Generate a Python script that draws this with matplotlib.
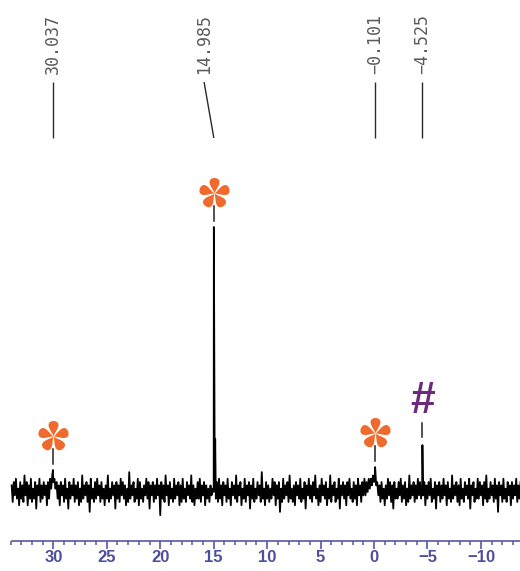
import numpy as np
import matplotlib
matplotlib.use('Agg')
import matplotlib.pyplot as plt
from matplotlib.path import Path

# baseline trace, one value every 0.1 ppm from 33.9 ppm
# (values in noise_unit steps of intensity, main peak = 100)
noise = [2, -3, 3, -1, 4, -2, 1, -4, 3, -2, 2, -3, 5, -1, 3, -4, 2, -2, 4, -3,
         1, -2, 3, -5, 2, -1, 4, -3, 2, -2, 3, -1, 2, -4, 3, -2, 4, 1, 5, 3,
         4, 1, 3, -2, 2, -4, 3, -1, 2, -3, 4, -2, 1, -5, 3, -2, 2, -1, 4, -3,
         2, -2, 3, -4, 1, -3, 5, -2, 2, -1, 3, -3, 2, -6, 4, -2, 1, -3, 3, -2,
         4, -1, 2, -3, 3, -2, 1, -4, 2, -2, 5, -3, 1, -2, 3, -1, 2, -5, 3, -2,
         2, -3, 4, -1, 3, -2, 2, -4, 1, -3, 6, -2, 2, -1, 3, -3, 1, -2, 4, -4,
         3, -2, 1, -3, 2, -1, 4, -2, 3, -5, 2, -1, 3, -3, 2, -2, 4, -1, 2, -7,
         3, -2, 2, -3, 5, -1, 2, -4, 3, -2, 1, -3, 4, -2, 2, -1, 3, -4, 2, -3,
         4, -2, 1, -3, 3, -1, 2, -2, 5, -3, 2, -4, 1, -2, 3, -2, 4, -3, 2, -1,
         3, -4, 2, -2, 1, -3, 2, -1, 1, 0, 1, -2, 3, -3, 4, -2, 2, -4, 3, -1,
         2, -3, 4, -2, 1, -4, 3, -1, 2, -2, 5, -3, 2, -1, 3, -4, 1, -2, 4, -3,
         2, -1, 3, -5, 2, -2, 4, -3, 1, -2, 3, -1, 2, -3, 6, -2, 1, -4, 3, -2,
         2, -3, 1, -2, 4, -1, 3, -4, 2, -2, 3, -6, 1, -3, 4, -2, 2, -1, 3, -3,
         5, -2, 1, -3, 2, -4, 3, -1, 2, -2, 4, -3, 1, -2, 3, -5, 2, -1, 4, -2,
         2, -3, 3, -1, 5, -2, 1, -4, 2, -3, 4, -1, 2, -2, 3, -4, 1, -2, 5, -3,
         2, -1, 3, -3, 1, -2, 4, -5, 2, -1, 3, -2, 2, -4, 3, -1, 4, -2, 1, -3,
         3, -2, 2, -4, 4, -1, 2, -3, 3, -1, 4, -1, 3, 0, 4, 1, 4, 2, 5, 3,
         4, 2, 3, -1, 2, -3, 3, -2, 1, -4, 2, -2, 4, -1, 3, -3, 2, -5, 3, -2,
         1, -2, 3, -1, 4, -3, 2, -2, 3, -4, 1, -3, 5, -2, 2, -1, 3, -3, 2, -2,
         4, -1, 3, -2, 2, -1, 3, -4, 2, -2, 3, -1, 4, -3, 1, -2, 3, -5, 2, -1,
         3, -3, 2, -2, 4, -1, 2, -4, 3, -2, 1, -3, 5, -2, 2, -1, 3, -3, 2, -4,
         4, -2, 1, -3, 3, -1, 2, -2, 4, -5, 2, -1, 3, -3, 1, -2, 4, -2, 3, -1,
         2, -4, 3, -2, 5, -3, 1, -2, 3, -1, 2, -3, 4, -2, 2, -6, 3, -1, 2, -3,
         4, -2, 1, -3, 3, -1, 2, -4, 3, -2, 2, -1, 4, -3, 2, -2, 3]
noise_start = 33.9
noise_step = 0.1
noise_unit = 1.25

# peak lines
peak_ppm = [30.037, 14.985, 14.86, -0.101, -4.525]
peak_int = [8.3, 100.0, 20.0, 9.4, 17.7]

# peak pick labels at the top
label_text = ['30.037', '14.985', '\u22120.101', '\u22124.525']
label_ppm = [30.037, 14.985, -0.101, -4.525]
label_at = [30.037, 15.9, -0.101, -4.525]

# annotations
star_ppm = [30.037, 14.985, -0.101]
star_int = [8.3, 100.0, 9.4]
hash_ppm = [-4.525]
hash_int = [17.7]

tick_vals = [30, 25, 20, 15, 10, 5, 0, -5, -10, -15]
tick_text = ['30', '25', '20', '15', '10', '5', '0', '\u22125', '\u221210', '\u221215']

# layout (pixels)
W, H, DPI = 520, 571, 100
PX_PPM = 10.69
PPM_LEFT = 34.99
PPM_RIGHT = -20.0
BASE_PX = 492.0
PX_UNIT = 2.65


def yv(px):
    # figure pixel row -> intensity
    return (BASE_PX - px) / PX_UNIT


def asterisk():
    t = np.linspace(0, 2 * np.pi, 48)
    s = (1 - np.cos(t)) / 2
    u = s
    v = 0.48 * np.sin(t) * s ** 0.9
    verts, codes = [], []
    for k in range(5):
        a = np.deg2rad(90 + 72 * k)
        xr = u * np.cos(a) - v * np.sin(a)
        yr = u * np.sin(a) + v * np.cos(a)
        verts.extend(np.column_stack([xr, yr]))
        codes.extend([Path.MOVETO] + [Path.LINETO] * (len(t) - 2) + [Path.CLOSEPOLY])
    return Path(np.array(verts), codes)


fig = plt.figure(figsize=(W / DPI, H / DPI), dpi=DPI, facecolor='white')
ax_w = (PPM_LEFT - PPM_RIGHT) * PX_PPM / W
ax = fig.add_axes([0, 0, ax_w, 1])
ax.set_xlim(PPM_LEFT, PPM_RIGHT)
ax.set_ylim(yv(H), yv(0))

# spectrum
grid = noise_start - noise_step * np.arange(len(noise))
xs = np.concatenate([grid, peak_ppm])
ys = np.concatenate([np.array(noise) * noise_unit, peak_int])
order = np.argsort(-xs)
ax.plot(xs[order], ys[order], color='black', lw=1.3)

# axis
for s in ['top', 'right', 'left']:
    ax.spines[s].set_visible(False)
axcol = '#5656a6'
ax.spines['bottom'].set_position(('data', yv(540.7)))
ax.spines['bottom'].set_bounds(33.87, PPM_RIGHT)
ax.spines['bottom'].set_color(axcol)
ax.spines['bottom'].set_linewidth(1.2)
ax.set_yticks([])
ax.set_xticks(tick_vals)
ax.set_xticks(np.arange(34, -20, -1), minor=True)
ax.set_xticklabels(tick_text, fontsize=12, fontweight='bold',
                   family='Liberation Sans', color='#4e4e9e')
ax.tick_params(axis='x', which='major', direction='out', length=5.5,
               width=1.2, color=axcol, pad=1.0)
ax.tick_params(axis='x', which='minor', direction='out', length=2.8,
               width=1.1, color=axcol)

# peak labels and connectors
for txt, p, at in zip(label_text, label_ppm, label_at):
    ax.text(at, yv(74), txt, rotation=90, ha='center', va='bottom',
            family='DejaVu Sans Mono', fontsize=12, color='#5a5a5a')
    ax.plot([at, p], [yv(82), yv(138)], color='#2a2a2a', lw=1.0,
            solid_capstyle='butt')

# asterisks with lead lines
star = asterisk()
L_pt = 15.5 * 72 / DPI
ms = 2 * np.abs(star.vertices).max() * L_pt
orange = '#ef6b2d'
for p, h in zip(star_ppm, star_int):
    top = BASE_PX - h * PX_UNIT
    ax.plot([p, p], [yv(top - 6), yv(top - 21)], color='#222222', lw=1.1)
    ax.plot([p], [yv(top - 34)], ls='none', marker=star, ms=ms,
            mfc=orange, mec='none')

for p, h in zip(hash_ppm, hash_int):
    top = BASE_PX - h * PX_UNIT
    ax.plot([p, p], [yv(top - 8), yv(top - 22)], color='#222222', lw=1.1)
    ax.text(p, yv(top - 32), '#', ha='center', va='baseline',
            family='Liberation Sans', fontweight='bold', fontsize=32,
            color='#6c2a7c')

fig.savefig('out.png', dpi=DPI, facecolor='white')
